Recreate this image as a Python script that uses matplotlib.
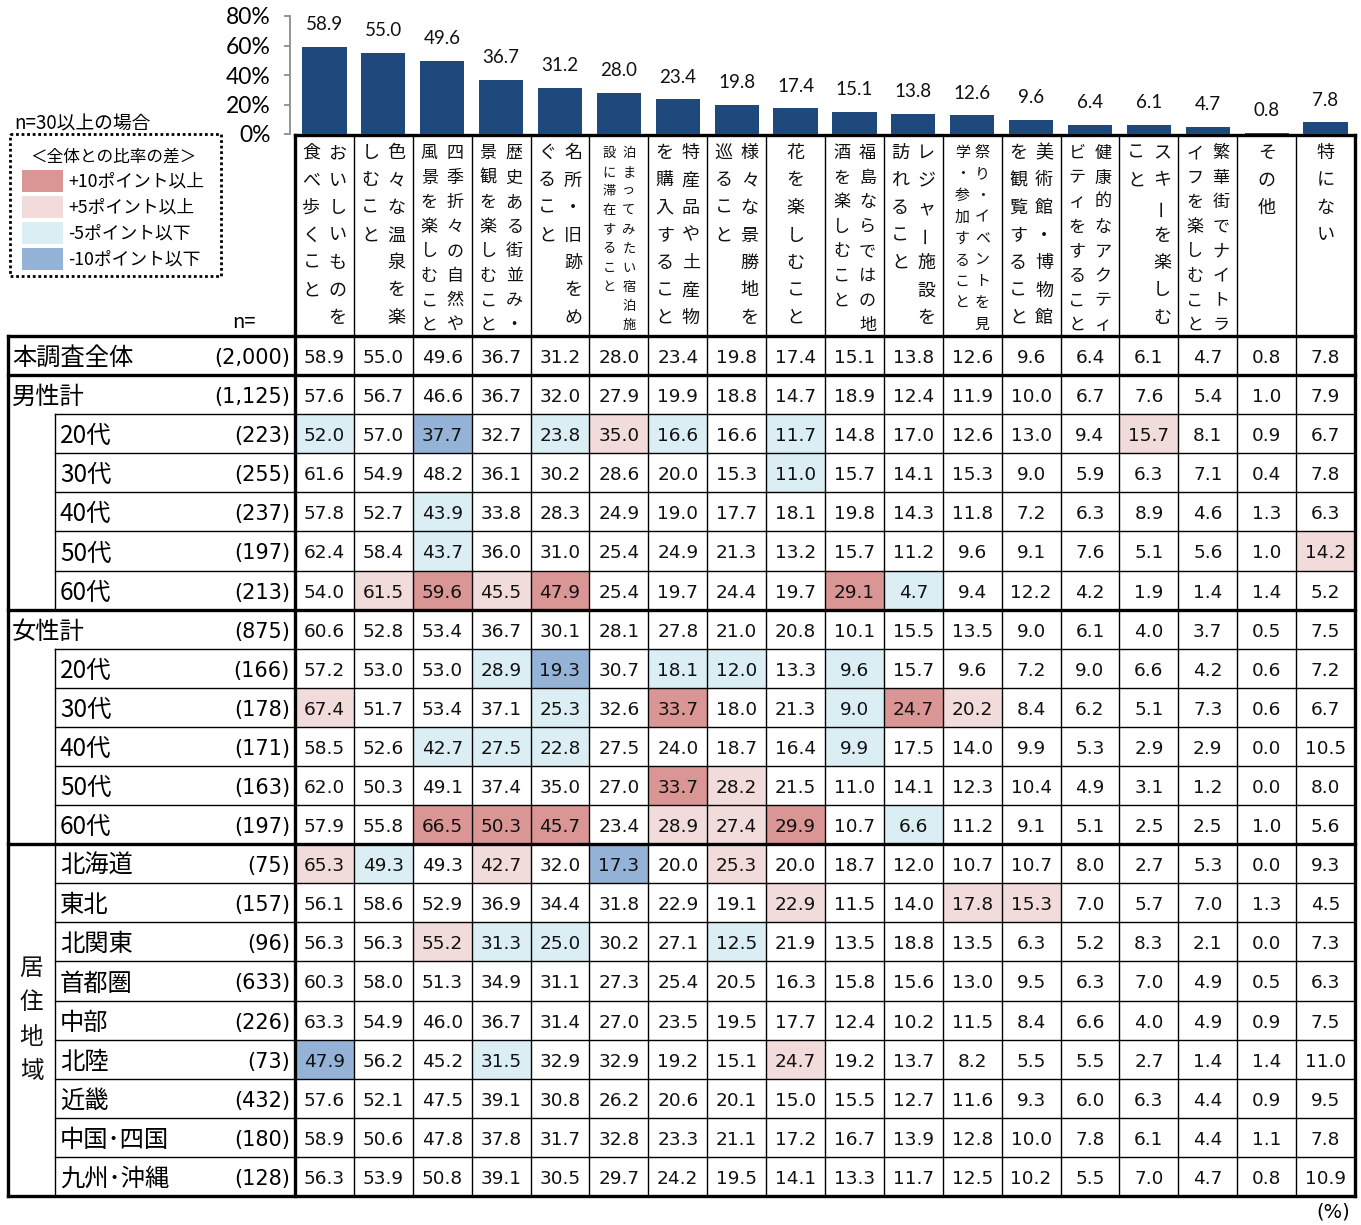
import matplotlib.pyplot as plt
from matplotlib.patches import Rectangle

plt.rcParams['font.family'] = ['Noto Sans CJK JP', 'DejaVu Sans']

# column headers (vertical writing: right sub-column is read first)
head_right = ['おいしいものを', '色々な温泉を楽', '四季折々の自然や', '歴史ある街並み・', '名所・旧跡をめ',
              '泊まってみたい宿泊施', '特産品や土産物', '様々な景勝地を', '花を楽しむこと', '福島ならではの地',
              'レジャー施設を', '祭り・イベントを見', '美術館・博物館', '健康的なアクティ', 'スキーを楽しむ',
              '繁華街でナイトラ', 'その他', '特にない']
head_left = ['食べ歩くこと', 'しむこと', '風景を楽しむこと', '景観を楽しむこと', 'ぐること',
             '設に滞在すること', 'を購入すること', '巡ること', '', '酒を楽しむこと',
             '訪れること', '学・参加すること', 'を観覧すること', 'ビティをすること', 'こと',
             'イフを楽しむこと', '', '']

row_labels = ['本調査全体', '男性計', '20代', '30代', '40代', '50代', '60代',
              '女性計', '20代', '30代', '40代', '50代', '60代',
              '北海道', '東北', '北関東', '首都圏', '中部', '北陸', '近畿', '中国･四国', '九州･沖縄']
row_n = ['(2,000)', '(1,125)', '(223)', '(255)', '(237)', '(197)', '(213)',
         '(875)', '(166)', '(178)', '(171)', '(163)', '(197)',
         '(75)', '(157)', '(96)', '(633)', '(226)', '(73)', '(432)', '(180)', '(128)']
main_rows = [0, 1, 7]

pct = [
    [58.9, 55.0, 49.6, 36.7, 31.2, 28.0, 23.4, 19.8, 17.4, 15.1, 13.8, 12.6, 9.6, 6.4, 6.1, 4.7, 0.8, 7.8],
    [57.6, 56.7, 46.6, 36.7, 32.0, 27.9, 19.9, 18.8, 14.7, 18.9, 12.4, 11.9, 10.0, 6.7, 7.6, 5.4, 1.0, 7.9],
    [52.0, 57.0, 37.7, 32.7, 23.8, 35.0, 16.6, 16.6, 11.7, 14.8, 17.0, 12.6, 13.0, 9.4, 15.7, 8.1, 0.9, 6.7],
    [61.6, 54.9, 48.2, 36.1, 30.2, 28.6, 20.0, 15.3, 11.0, 15.7, 14.1, 15.3, 9.0, 5.9, 6.3, 7.1, 0.4, 7.8],
    [57.8, 52.7, 43.9, 33.8, 28.3, 24.9, 19.0, 17.7, 18.1, 19.8, 14.3, 11.8, 7.2, 6.3, 8.9, 4.6, 1.3, 6.3],
    [62.4, 58.4, 43.7, 36.0, 31.0, 25.4, 24.9, 21.3, 13.2, 15.7, 11.2, 9.6, 9.1, 7.6, 5.1, 5.6, 1.0, 14.2],
    [54.0, 61.5, 59.6, 45.5, 47.9, 25.4, 19.7, 24.4, 19.7, 29.1, 4.7, 9.4, 12.2, 4.2, 1.9, 1.4, 1.4, 5.2],
    [60.6, 52.8, 53.4, 36.7, 30.1, 28.1, 27.8, 21.0, 20.8, 10.1, 15.5, 13.5, 9.0, 6.1, 4.0, 3.7, 0.5, 7.5],
    [57.2, 53.0, 53.0, 28.9, 19.3, 30.7, 18.1, 12.0, 13.3, 9.6, 15.7, 9.6, 7.2, 9.0, 6.6, 4.2, 0.6, 7.2],
    [67.4, 51.7, 53.4, 37.1, 25.3, 32.6, 33.7, 18.0, 21.3, 9.0, 24.7, 20.2, 8.4, 6.2, 5.1, 7.3, 0.6, 6.7],
    [58.5, 52.6, 42.7, 27.5, 22.8, 27.5, 24.0, 18.7, 16.4, 9.9, 17.5, 14.0, 9.9, 5.3, 2.9, 2.9, 0.0, 10.5],
    [62.0, 50.3, 49.1, 37.4, 35.0, 27.0, 33.7, 28.2, 21.5, 11.0, 14.1, 12.3, 10.4, 4.9, 3.1, 1.2, 0.0, 8.0],
    [57.9, 55.8, 66.5, 50.3, 45.7, 23.4, 28.9, 27.4, 29.9, 10.7, 6.6, 11.2, 9.1, 5.1, 2.5, 2.5, 1.0, 5.6],
    [65.3, 49.3, 49.3, 42.7, 32.0, 17.3, 20.0, 25.3, 20.0, 18.7, 12.0, 10.7, 10.7, 8.0, 2.7, 5.3, 0.0, 9.3],
    [56.1, 58.6, 52.9, 36.9, 34.4, 31.8, 22.9, 19.1, 22.9, 11.5, 14.0, 17.8, 15.3, 7.0, 5.7, 7.0, 1.3, 4.5],
    [56.3, 56.3, 55.2, 31.3, 25.0, 30.2, 27.1, 12.5, 21.9, 13.5, 18.8, 13.5, 6.3, 5.2, 8.3, 2.1, 0.0, 7.3],
    [60.3, 58.0, 51.3, 34.9, 31.1, 27.3, 25.4, 20.5, 16.3, 15.8, 15.6, 13.0, 9.5, 6.3, 7.0, 4.9, 0.5, 6.3],
    [63.3, 54.9, 46.0, 36.7, 31.4, 27.0, 23.5, 19.5, 17.7, 12.4, 10.2, 11.5, 8.4, 6.6, 4.0, 4.9, 0.9, 7.5],
    [47.9, 56.2, 45.2, 31.5, 32.9, 32.9, 19.2, 15.1, 24.7, 19.2, 13.7, 8.2, 5.5, 5.5, 2.7, 1.4, 1.4, 11.0],
    [57.6, 52.1, 47.5, 39.1, 30.8, 26.2, 20.6, 20.1, 15.0, 15.5, 12.7, 11.6, 9.3, 6.0, 6.3, 4.4, 0.9, 9.5],
    [58.9, 50.6, 47.8, 37.8, 31.7, 32.8, 23.3, 21.1, 17.2, 16.7, 13.9, 12.8, 10.0, 7.8, 6.1, 4.4, 1.1, 7.8],
    [56.3, 53.9, 50.8, 39.1, 30.5, 29.7, 24.2, 19.5, 14.1, 13.3, 11.7, 12.5, 10.2, 5.5, 7.0, 4.7, 0.8, 10.9],
]

# difference from total: R >= +10, r >= +5, b <= -5, B <= -10 (as marked in the source)
marks = [
    '..................',
    '..................',
    'b.B.brb.b.....r...',
    '........b.........',
    '..b...............',
    '..b..............r',
    '.rRrR....Rb.......',
    '..................',
    '...bB.bb.b........',
    'r...b.R..bRr......',
    '..bbb....b........',
    '......Rr..........',
    '..RRR.rrR.b.......',
    'rb.r.B.r..........',
    '........r..rr.....',
    '..rbb..b..........',
    '..................',
    '..................',
    'B..b....r.........',
    '..................',
    '..................',
    '..................',
]
mark_colors = {'R': '#d99694', 'r': '#f2dcdb', 'b': '#daeef3', 'B': '#95b3d7'}
legend_keys = ['R', 'r', 'b', 'B']
legend_labels = ['+10ポイント以上', '+5ポイント以上', '-5ポイント以下', '-10ポイント以下']

W, H = 1361, 1225
fig = plt.figure(figsize=(W / 100, H / 100), dpi=100)

# table geometry in pixels
X0, XS, XD, XR = 8, 55, 295, 1355
HT, HB, YB = 135, 336, 1196
ncol, nrow = len(head_right), len(row_labels)
CW = (XR - XD) / ncol
RH = (YB - HB) / nrow
DY = 2.5  # text baseline nudge

ax = fig.add_axes([0, 0, 1, 1])
ax.set_xlim(0, W)
ax.set_ylim(H, 0)
ax.axis('off')

# ---- bar chart of the total row
bax = fig.add_axes([290 / W, 1 - 134 / H, (XR - 290) / W, 118 / H])
bax.patch.set_alpha(0)
xs = [c + 0.5 for c in range(ncol)]
bax.bar(xs, pct[0], width=0.75, color='#1f497d', zorder=2)
for x, v in zip(xs, pct[0]):
    bax.annotate(f'{v:.1f}', (x, v), xytext=(0, 16), textcoords='offset points',
                 ha='center', va='center', fontsize=13.5, family='Lato', color='#111111')
bax.set_xlim(-5 / CW, ncol)
bax.set_ylim(0, 80)
bax.set_yticks([0, 20, 40, 60, 80])
bax.set_yticklabels([f'{t}%' for t in [0, 20, 40, 60, 80]], family='Lato', fontsize=16.5)
bax.set_xticks([])
for s in ['top', 'right', 'bottom']:
    bax.spines[s].set_visible(False)
bax.spines['left'].set_color('#8c8c8c')
bax.spines['left'].set_linewidth(1.3)
bax.tick_params(axis='y', length=4, width=1.3, color='#8c8c8c', pad=10)

# ---- cell fills
for r in range(nrow):
    for c in range(ncol):
        k = marks[r][c]
        if k != '.':
            ax.add_patch(Rectangle((XD + c * CW, HB + r * RH), CW, RH,
                                   facecolor=mark_colors[k], edgecolor='none', zorder=1))

# ---- grid lines
thin, thick = 1.0, 2.4
for c in range(1, ncol):
    ax.plot([XD + c * CW] * 2, [HT, YB], color='black', lw=thin, zorder=2)
for r in range(1, nrow):
    y = HB + r * RH
    if r in (1, 7, 13):
        ax.plot([X0, XR], [y, y], color='black', lw=thick, zorder=3)
    else:
        ax.plot([XS, XR], [y, y], color='black', lw=thin, zorder=2)
ax.plot([X0, XR], [HB, HB], color='black', lw=thick, zorder=3)
ax.plot([X0, XR], [YB, YB], color='black', lw=thick, zorder=3)
ax.plot([XD, XR], [HT, HT], color='black', lw=thick, zorder=3)
ax.plot([X0, X0], [HB, YB], color='black', lw=thick, zorder=3)
ax.plot([XD, XD], [HT, YB], color='black', lw=thick, zorder=3)
ax.plot([XR, XR], [HT, YB], color='black', lw=thick, zorder=3)
for r0, r1 in [(2, 7), (8, 13), (13, 22)]:
    ax.plot([XS, XS], [HB + r0 * RH, HB + r1 * RH], color='black', lw=thin, zorder=2)


def vtext(x, y0, s, step, fs):
    for k, ch in enumerate(s):
        rot = 90 if ch == 'ー' else 0
        ax.text(x, y0 + k * step, ch, ha='center', va='center', fontsize=fs,
                rotation=rot, color='#111111', zorder=4)


# ---- column headers
for c in range(ncol):
    cx = XD + (c + 0.5) * CW
    n = max(len(head_right[c]), len(head_left[c]))
    step = min(27.5, 172 / (n - 1))
    fs = min(13, step * 0.5)
    off = 13 if fs > 11.5 else 10
    if head_left[c]:
        vtext(cx + off, 153, head_right[c], step, fs)
        vtext(cx - off, 153, head_left[c], step, fs)
    else:
        vtext(cx, 153, head_right[c], step, fs)

# ---- row labels and values
for r in range(nrow):
    yc = HB + (r + 0.5) * RH + DY
    lx = X0 + 4 if r in main_rows else XS + 5
    ax.text(lx, yc, row_labels[r], ha='left', va='center', fontsize=17.5, zorder=4)
    ax.text(XD - 5, yc, row_n[r], ha='right', va='center', fontsize=15,
            family='DejaVu Sans', zorder=4)
    for c in range(ncol):
        ax.text(XD + (c + 0.5) * CW, yc, f'{pct[r][c]:.1f}', ha='center', va='center',
                fontsize=13.3, family='DejaVu Sans', color='#111111', zorder=4)

vtext((X0 + XS) / 2, HB + 17.5 * RH - 1.5 * 34.5, '居住地域', 34.5, 17)

ax.text(244, 323, 'n=', ha='center', va='center', fontsize=14.5)
ax.text(1350, 1212, '(%)', ha='right', va='center', fontsize=14, family='DejaVu Sans')

# ---- legend box
ax.text(14, 124, 'n=30以上の場合', ha='left', va='center', fontsize=13.5)
ax.add_patch(Rectangle((10, 134), 211, 142, facecolor='none', edgecolor='black',
                       lw=2, linestyle=(0, (1, 1)), zorder=3))
ax.text(113, 157, '＜全体との比率の差＞', ha='center', va='center', fontsize=12)
for i, (k, lab) in enumerate(zip(legend_keys, legend_labels)):
    yc = 181 + i * 26
    ax.add_patch(Rectangle((22, yc - 11), 41, 22, facecolor=mark_colors[k], edgecolor='none'))
    ax.text(68, yc + 1, lab, ha='left', va='center', fontsize=12.8)

fig.savefig('out.png', dpi=100)
